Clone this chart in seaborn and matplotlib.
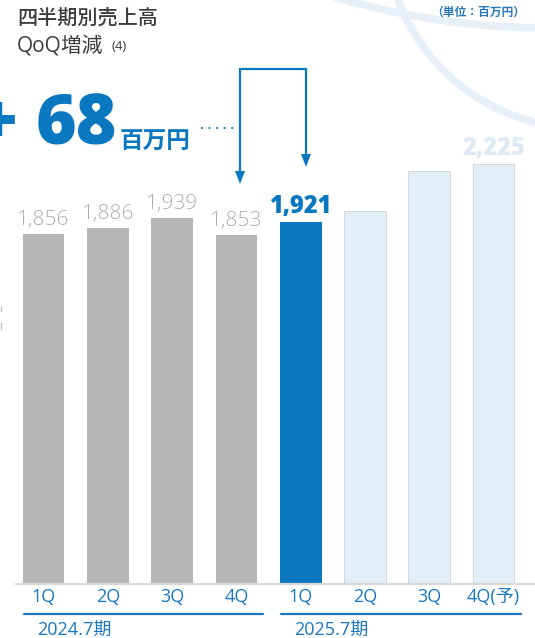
import numpy as np
import pandas as pd
import seaborn as sns
import matplotlib.pyplot as plt
from matplotlib.lines import Line2D
from matplotlib.patches import Polygon, Ellipse
from matplotlib.transforms import blended_transform_factory

# ---------------- data ----------------
quarters = ['1Q', '2Q', '3Q', '4Q', '1Q', '2Q', '3Q', '4Q(予)']
periods = ['2024.7期', '2024.7期', '2024.7期', '2024.7期',
           '2025.7期', '2025.7期', '2025.7期', '2025.7期']
sales = [1856, 1886, 1939, 1853, 1921, 1978, 2190, 2225]
status = ['prev', 'prev', 'prev', 'prev', 'current', 'forecast', 'forecast', 'forecast']
show_label = [True, True, True, True, True, False, False, True]
qoq_change = 68

title1 = '四半期別売上高'
title2 = 'QoQ増減'
note = '(4)'
unit_text = '（単位：百万円）'
# --------------------------------------

W, H = 535, 638
sns.set_theme(style='white')
plt.rcParams['font.family'] = ['Open Sans', 'Noto Sans CJK JP', 'DejaVu Sans']

C_GRAY = '#b8b5b5'
C_BLUE = '#0a78c0'
C_LIGHT = '#e2eef8'
C_LABEL_GRAY = '#b0adad'
C_TEXT = '#3d3a3a'
status_colors = {'prev': C_GRAY, 'current': C_BLUE, 'forecast': C_LIGHT}

fig = plt.figure(figsize=(W / 100, H / 100), dpi=100)
fig.patch.set_facecolor('white')


def fp(x, y):
    return (x / W, 1 - y / H)


# background decorative arcs
for (cx, cy, r) in [(550, -736, 764), (583.5, -69.6, 198)]:
    e = Ellipse(fp(cx, cy), 2 * r / W, 2 * r / H, transform=fig.transFigure,
                fill=False, edgecolor='#e7f0f8', linewidth=5.5, zorder=-5)
    fig.add_artist(e)

base_px = 584
ax = fig.add_axes([0, 1 - base_px / H, 1, base_px / H])
ax.set_facecolor('none')

slots = [f'{p}-{q}' for p, q in zip(periods, quarters)]
df = pd.DataFrame({'slot': slots, 'sales': sales, 'status': status,
                   'quarter': quarters, 'period': periods})
palette = {s: status_colors[st] for s, st in zip(slots, status)}

sns.barplot(data=df, x='slot', y='sales', hue='slot', order=slots, hue_order=slots,
            palette=palette, width=0.65, saturation=1, legend=False, ax=ax, zorder=2)

for patch, st in zip(ax.patches, status):
    if st == 'forecast':
        patch.set_edgecolor('#d3d8dc')
        patch.set_linewidth(0.7)
    else:
        patch.set_linewidth(0)

px_per_unit = 350 / 1856
ax.set_ylim(0, base_px / px_per_unit)
spacing = 64.3
ax.set_xlim(-43.5 / spacing, (W - 43.5) / spacing)
for sp in ax.spines.values():
    sp.set_visible(False)
ax.set_yticks([])
ax.set_xlabel('')
ax.set_ylabel('')
ax.set_xticks(range(len(quarters)))
ax.set_xticklabels(quarters, color='#1a78c2', fontsize=13)
ax.tick_params(axis='x', length=0, pad=3)

# value labels
for i, (v, st, sh) in enumerate(zip(sales, status, show_label)):
    if not sh:
        continue
    if st == 'prev':
        kw = dict(color=C_LABEL_GRAY, fontsize=15, fontweight='light')
    elif st == 'current':
        kw = dict(color=C_BLUE, fontsize=17, fontweight='heavy')
    else:
        kw = dict(color='#dde9f4', fontsize=17, fontweight='heavy')
    ax.annotate(f'{v:,}', (i, v), xytext=(0, 6.5), textcoords='offset points',
                ha='center', va='baseline', **kw)

# baseline
fig.add_artist(Line2D([16 / W, 1], [1 - base_px / H] * 2, transform=fig.transFigure,
                      color='#d9d9d9', linewidth=1.6, zorder=3))

# period underlines and labels
bt = blended_transform_factory(ax.transData, fig.transFigure)
groups = []
for i, p in enumerate(periods):
    if not groups or groups[-1][0] != p:
        groups.append([p, i, i])
    else:
        groups[-1][2] = i
for p, i0, i1 in groups:
    x0 = i0 - 0.3
    x1 = i1 + 0.42
    ax.add_line(Line2D([x0, x1], [1 - 614 / H] * 2, transform=bt, color='#1a78c2',
                       linewidth=1.6, clip_on=False))
    ax.text(i0 - 0.1, 1 - 630 / H, p, transform=bt, ha='left', va='center',
            color='#1a78c2', fontsize=13)

# titles
fig.text(*fp(17, 19), title1, ha='left', va='center', color=C_TEXT, fontsize=14.5,
         fontweight='medium')
fig.text(*fp(17, 46), title2, ha='left', va='center', color=C_TEXT, fontsize=15)
fig.text(*fp(111, 47), note, ha='left', va='center', color=C_TEXT, fontsize=9.5)
fig.text(*fp(525, 12), unit_text, ha='right', va='center', color='#2a7ab8', fontsize=8.5,
         fontweight='bold')

# big QoQ number
fig.text(*fp(117, 144), f'{qoq_change}', ha='right', va='baseline', color=C_BLUE,
         fontsize=50, fontweight='heavy')
fig.text(*fp(17, 144), '+', ha='right', va='baseline', color=C_BLUE,
         fontsize=50, fontweight='heavy')
fig.text(*fp(120, 149), '百万円', ha='left', va='baseline', color=C_BLUE,
         fontsize=17, fontweight='bold')
fig.add_artist(Line2D([201 / W, 236 / W], [1 - 128 / H] * 2, transform=fig.transFigure,
                      color=C_BLUE, linewidth=1.3, linestyle=(0, (1, 3.2))))

# bracket arrow from 4Q to 1Q
xl, xr, ytop = 240, 306, 69
path = [(xl, 172), (xl, ytop), (xr, ytop), (xr, 156)]
fig.add_artist(Line2D([p[0] / W for p in path], [1 - p[1] / H for p in path],
                      transform=fig.transFigure, color=C_BLUE, linewidth=1.6,
                      solid_joinstyle='miter'))
for x, tip in [(xl, 184), (xr, 167)]:
    tri = Polygon([fp(x - 5, tip - 13), fp(x + 5, tip - 13), fp(x, tip)],
                  closed=True, transform=fig.transFigure, color=C_BLUE, linewidth=0)
    fig.add_artist(tri)

# small cut-off marks at left edge
for y0, y1 in [(307, 311), (323, 329)]:
    fig.add_artist(Line2D([0.6 / W] * 2, [1 - y0 / H, 1 - y1 / H], transform=fig.transFigure,
                          color='#c0c0c0', linewidth=1))

fig.savefig('out.png', dpi=100)
